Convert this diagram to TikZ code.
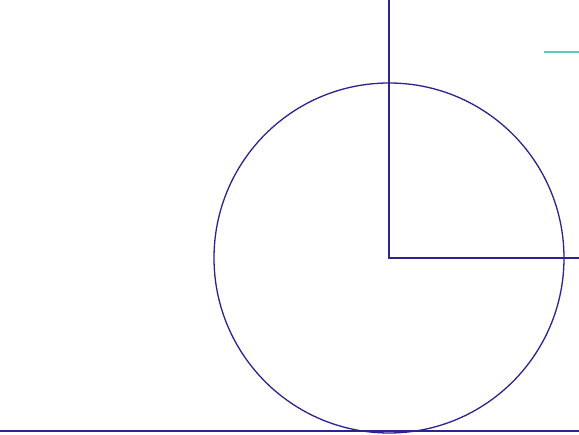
\documentclass[tikz,border=0pt]{standalone}
\usepackage{tikz}
\usetikzlibrary{calc}
\definecolor{inkblue}{RGB}{45,35,140}
\definecolor{tealmark}{RGB}{90,205,185}

\begin{document}
\begin{tikzpicture}[
      x=1pt, y=1pt,
      outline/.style={
        draw=inkblue,
        line width=1.3pt
      },
      marker/.style={
        draw=tealmark,
        line width=1.8pt
      }
    ]

    % Canvas
    \useasboundingbox[fill=white] (0,0) rectangle (579,435);

    % Reference points
    \coordinate (centre) at (389,177);
    \coordinate (topend) at (389,435);
    \coordinate (rightend) at (579,177);
    \coordinate (groundleft) at (0,4);
    \coordinate (groundright) at (579,4);
    \coordinate (markleft) at (544,383);
    \coordinate (markright) at (579,383);

    % Wheel and axes
    \draw[outline] (centre) circle[radius=175];
    \draw[outline] (topend) -- (centre) -- (rightend);

    % Ground line
    \draw[outline] (groundleft) -- (groundright);

    % Short mark top right
    \draw[marker] (markleft) -- (markright);

  \end{tikzpicture}
\end{document}
